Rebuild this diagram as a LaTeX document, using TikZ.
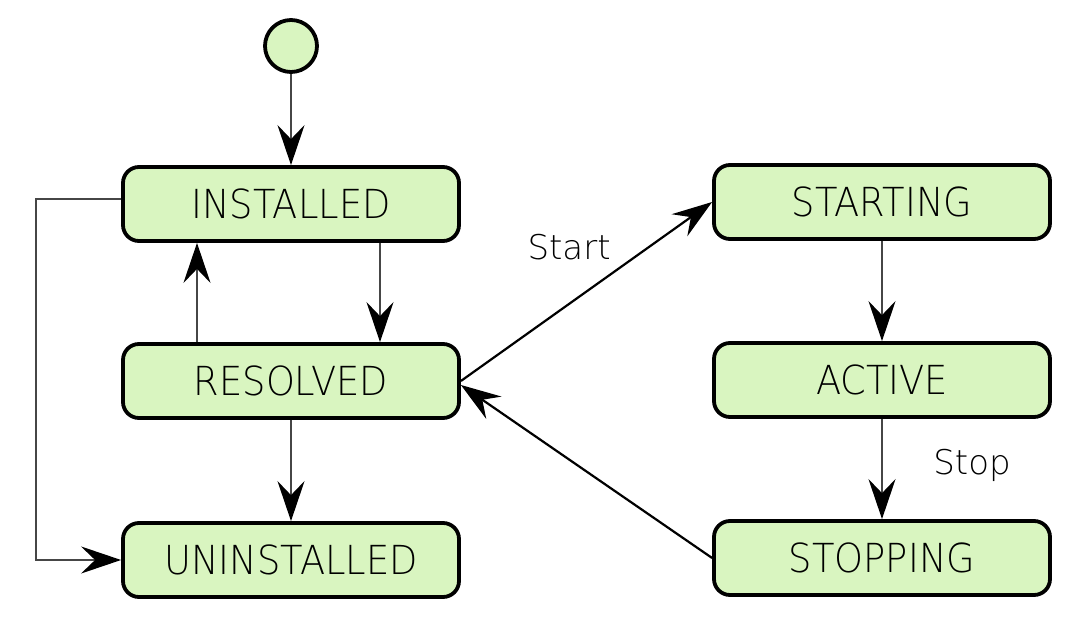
\documentclass[tikz,border=0pt]{standalone}
\usepackage{fontspec}
\setmainfont{DejaVu Sans ExtraLight}
\newfontfamily\statefont[FakeStretch=0.92]{DejaVu Sans ExtraLight}
\usetikzlibrary{arrows.meta}
\definecolor{statefill}{RGB}{217,245,192}
\definecolor{linegray}{RGB}{70,70,70}
\tikzset{
  state/.style={draw=black, line width=3.8pt, fill=statefill, rounded corners=16pt,
    minimum width=336pt, minimum height=74pt, inner sep=0pt,
    font=\statefont\fontsize{40}{40}\selectfont, text=black},
  startdot/.style={circle, draw=black, line width=3.8pt, fill=statefill, minimum size=52pt, inner sep=0pt},
  conn/.style={draw=linegray, line width=2.8pt, -{Stealth[length=40pt,width=27pt,inset=14pt,color=black]}},
  lbl/.style={font=\fontsize{34}{34}\selectfont, text=black}
}
\begin{document}
\begin{tikzpicture}[x=1pt,y=-1pt]
\useasboundingbox (0,0) rectangle (1080,623);
\node[startdot] (init) at (291,46) {};
\node[state] (installed) at (291,204) {INSTALLED};
\node[state] (resolved) at (291,381) {RESOLVED};
\node[state] (uninstalled) at (291,560) {UNINSTALLED};
\node[state] (starting) at (882,202) {STARTING};
\node[state] (active) at (882,380) {ACTIVE};
\node[state] (stopping) at (882,558) {STOPPING};
\coordinate (c1) at (36,199);
\coordinate (c2) at (36,560);
\draw[conn] (init) -- (installed);
\draw[conn] (installed.south -| 380,0) -- (resolved.north -| 380,0);
\draw[conn] (resolved.north -| 197,0) -- (installed.south -| 197,0);
\draw[conn] (resolved) -- (uninstalled);
\draw[conn] (installed.west |- c1) -- (c1) -- (c2) -- (uninstalled.west);
\draw[conn, line width=2.2pt, draw=black] (resolved.east) -- node[lbl, pos=0.55, xshift=-30pt, yshift=35pt] {Start} (starting.west);
\draw[conn] (starting) -- (active);
\draw[conn] (active) -- node[lbl, pos=0.5, xshift=90pt, yshift=4pt] {Stop} (stopping);
\draw[conn, line width=2.2pt, draw=black] (stopping.west) -- ([yshift=-4pt]resolved.east);
\end{tikzpicture}
\end{document}
